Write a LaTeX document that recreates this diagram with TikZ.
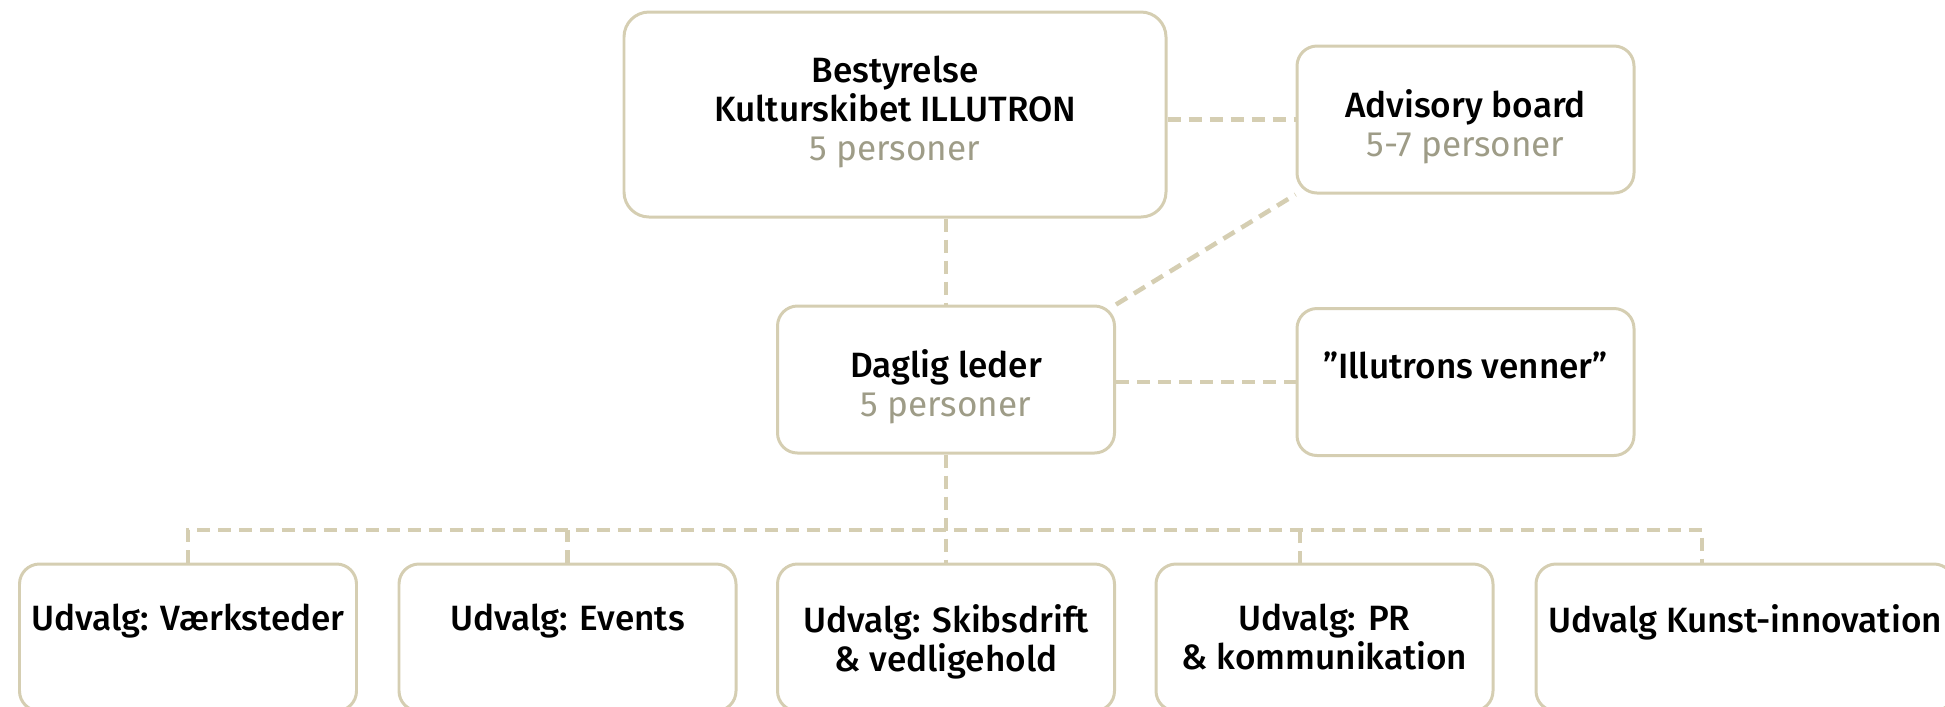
\documentclass[tikz,border=0pt]{standalone}
\usepackage{fontspec}
\setmainfont{Fira Sans}[BoldFont={Fira Sans Medium}]
\usepackage{tikz}
\usepackage{xcolor}
\usetikzlibrary{positioning}
\definecolor{frame}{HTML}{D5CEB2}
\definecolor{sub}{HTML}{9E9C87}

\begin{document}
\begin{tikzpicture}[every node/.style={font=\fontsize{10}{11.1}\selectfont}]
   \tikzstyle{bx}=[draw=frame,line width=0.85pt,rounded corners=0.2cm,minimum width=3.37cm,minimum height=1.47cm,fill=white];
   \tikzstyle{tx}=[inner sep=0pt,align=center,anchor=north,font=\fontsize{10}{11.1}\selectfont\bfseries];
   \tikzstyle{ln}=[draw=frame,line width=1.3pt,dash pattern=on 0.13cm off 0.08cm];
   \useasboundingbox (0,0) rectangle (19.45,-7.06);
   % top level
   \node[bx,minimum width=5.42cm,minimum height=2.05cm,rounded corners=0.25cm] (best) at (8.95,-1.145) {};
   \node[bx] (adv)    at (14.655,-1.195) {};
   \node[bx] (dl)     at (9.46,-3.795) {};
   \node[bx] (venner) at (14.655,-3.82) {};
   % udvalg
   \node[bx] (u1) at (1.88,-6.375) {};
   \node[bx] (u2) at (5.675,-6.375) {};
   \node[bx] (u3) at (9.46,-6.375) {};
   \node[bx] (u4) at (13.245,-6.375) {};
   \node[bx,minimum width=4.18cm] (u5) at (17.45,-6.375) {};
   % texts
   \node[tx,below=0.45cm of best.north] (best-t) {Bestyrelse\\Kulturskibet ILLUTRON\\\mdseries\textcolor{sub}{5 personer}};
   \node[tx,below=0.44cm of adv.north] (adv-t) {Advisory board\\\mdseries\textcolor{sub}{5-7 personer}};
   \node[tx,below=0.44cm of dl.north] (dl-t) {Daglig leder\\\mdseries\textcolor{sub}{5 personer}};
   \node[tx,below=0.44cm of venner.north] (venner-t) {”Illutrons venner”};
   \node[tx,below=0.41cm of u1.north] (u1-t) {Udvalg: Værksteder};
   \node[tx,below=0.41cm of u2.north] (u2-t) {Udvalg: Events};
   \node[tx,below=0.41cm of u3.north] (u3-t) {Udvalg: Skibsdrift\\\& vedligehold};
   \node[tx,below=0.41cm of u4.north] (u4-t) {Udvalg: PR\\\& kommunikation};
   \node[tx,below=0.41cm of u5.north] (u5-t) {Udvalg Kunst-innovation};
   \coordinate (bus) at (9.46,-5.30);
   \coordinate (j4) at (13.00,-5.64);
   \coordinate (j5) at (17.02,-5.64);
   % connectors
   \draw[ln] (best.east |- adv.west) -- (adv.west);
   \draw[ln] (best.south -| dl.north) -- (dl.north);
   \draw[ln] (dl.north east) -- (adv.south west);
   \draw[ln] (dl.east |- venner.west) -- (venner.west);
   \draw[ln] (dl) -- (u3);
   \draw[ln] (u1.north) -- (u1.north |- bus) -- (j5 |- bus) -- (j5);
   \draw[ln] (u2.north) -- (u2.north |- bus);
   \draw[ln] (j4) -- (j4 |- bus);
  \end{tikzpicture}
\end{document}
